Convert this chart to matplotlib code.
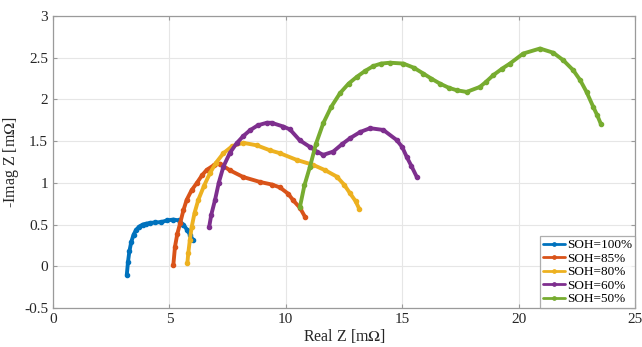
import numpy as np
import matplotlib.pyplot as plt

plt.rcParams['font.family'] = ['Liberation Serif', 'DejaVu Serif']
plt.rcParams['mathtext.fontset'] = 'stix'

# SOH = 100 %
re_100 = [3.17, 3.22, 3.28, 3.36, 3.46, 3.58, 3.7, 3.85, 4.0, 4.17, 4.4, 4.65, 4.9, 5.17, 5.4, 5.6, 5.75, 5.88, 6.0]
im_100 = [-0.1, 0.05, 0.18, 0.29, 0.38, 0.44, 0.475, 0.5, 0.51, 0.52, 0.525, 0.53, 0.55, 0.56, 0.55, 0.5, 0.44, 0.38, 0.32]

# SOH = 85 %
re_85 = [5.17, 5.24, 5.34, 5.46, 5.6, 5.74, 5.95, 6.17, 6.4, 6.6, 6.9, 7.17, 7.6, 8.17, 8.9, 9.4, 9.75, 10.1, 10.32, 10.61, 10.82]
im_85 = [0.02, 0.235, 0.39, 0.515, 0.67, 0.795, 0.91, 0.995, 1.09, 1.155, 1.21, 1.23, 1.15, 1.07, 1.01, 0.98, 0.945, 0.87, 0.79, 0.70, 0.595]

# SOH = 80 %
re_80 = [5.77, 5.81, 5.88, 5.96, 6.08, 6.24, 6.48, 6.74, 7.0, 7.32, 7.7, 8.17, 8.75, 9.32, 9.75, 10.47, 11.18, 11.7, 12.19, 12.5, 12.76, 13.0, 13.16]
im_80 = [0.035, 0.155, 0.32, 0.475, 0.64, 0.795, 0.96, 1.115, 1.24, 1.355, 1.44, 1.48, 1.45, 1.39, 1.355, 1.275, 1.215, 1.15, 1.075, 0.98, 0.875, 0.78, 0.685]

# SOH = 60 %
re_60 = [6.71, 6.8, 6.96, 7.12, 7.32, 7.6, 7.89, 8.17, 8.46, 8.8, 9.18, 9.39, 9.89, 10.18, 10.6, 11.04, 11.33, 11.61, 12.04, 12.4, 12.76, 13.2, 13.62, 14.19, 14.76, 15.0, 15.19, 15.4, 15.62]
im_60 = [0.475, 0.62, 0.795, 1.0, 1.195, 1.36, 1.475, 1.56, 1.63, 1.69, 1.72, 1.72, 1.675, 1.64, 1.51, 1.43, 1.375, 1.335, 1.375, 1.46, 1.535, 1.61, 1.655, 1.634, 1.514, 1.43, 1.314, 1.2, 1.075]

# SOH = 50 %
re_50 = [10.61, 10.8, 11.04, 11.3, 11.61, 11.95, 12.33, 12.7, 13.05, 13.4, 13.76, 14.1, 14.48, 15.05, 15.5, 15.91, 16.25, 16.62, 17.0, 17.34, 17.77, 18.34, 18.6, 18.91, 19.3, 19.63, 20.2, 20.92, 21.49, 21.92, 22.35, 22.65, 22.92, 23.21, 23.38, 23.53]
im_50 = [0.715, 0.97, 1.195, 1.47, 1.715, 1.91, 2.075, 2.19, 2.27, 2.34, 2.4, 2.43, 2.44, 2.43, 2.38, 2.31, 2.25, 2.19, 2.14, 2.11, 2.09, 2.15, 2.21, 2.29, 2.37, 2.43, 2.55, 2.61, 2.56, 2.47, 2.35, 2.23, 2.09, 1.91, 1.81, 1.71]

labels = ['SOH=100%', 'SOH=85%', 'SOH=80%', 'SOH=60%', 'SOH=50%']
colors = ['#0072BD', '#D95319', '#EDB120', '#7E2F8E', '#77AC30']
series = [(re_100, im_100), (re_85, im_85), (re_80, im_80), (re_60, im_60), (re_50, im_50)]

fig = plt.figure(figsize=(6.42, 3.47), dpi=100)
ax = fig.add_axes([0.0826, 0.1124, 0.9064, 0.8415])

for (x, y), lab, c in zip(series, labels, colors):
    ax.plot(x, y, '.-', color=c, lw=2.8, ms=6, label=lab, solid_capstyle='round',
            solid_joinstyle='round')

ax.set_xlim(0, 25)
ax.set_ylim(-0.5, 3)
ax.set_xticks(np.arange(0, 26, 5))
ax.set_yticks(np.arange(-0.5, 3.01, 0.5))
ax.set_yticklabels(['-0.5', '0', '0.5', '1', '1.5', '2', '2.5', '3'])
ax.grid(True, color='#e6e6e6', lw=0.8)
ax.set_axisbelow(True)
for s in ax.spines.values():
    s.set_color('#9a9a9a')
    s.set_linewidth(0.9)
ax.tick_params(direction='in', length=3, color='#9a9a9a', labelcolor='#262626',
               labelsize=11, top=True, right=True)
ax.set_xlabel('Real Z [m$\\Omega$]', fontsize=11.5, color='#262626', labelpad=1)
ax.set_ylabel('-Imag Z [m$\\Omega$]', fontsize=11.5, color='#262626', labelpad=2)

leg = ax.legend(loc='lower right', fontsize=9.5, frameon=True, fancybox=False,
                handlelength=1.7, handletextpad=0.15, labelspacing=0.1,
                borderpad=0.2, borderaxespad=0.0, markerscale=0.8)
leg.get_frame().set_edgecolor('#9a9a9a')
leg.get_frame().set_linewidth(0.9)
for h in leg.get_lines():
    h.set_linewidth(2)

fig.savefig('out.png', dpi=100)
